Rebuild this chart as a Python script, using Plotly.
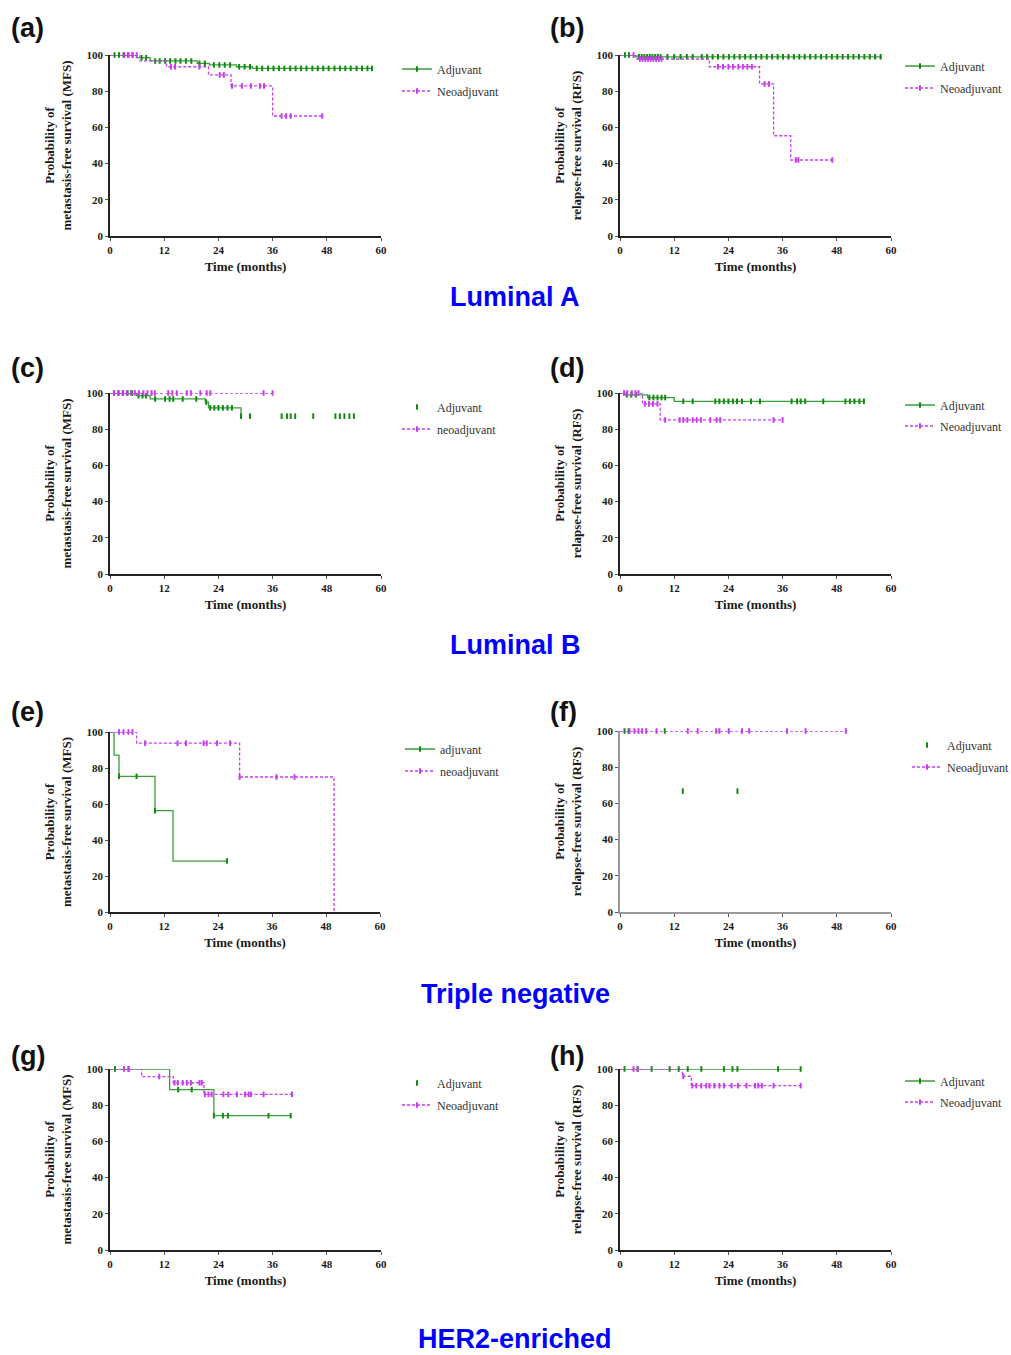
import plotly.graph_objects as go

W, H = 1011, 1355

# ---------------- DATA ----------------
# (a) Luminal A, MFS
a_adj_t = [0, 5.9, 8.9, 19.3, 22, 28, 31.5]
a_adj_s = [100, 98.5, 96.7, 95.4, 94.5, 93.5, 92.6]
a_adj_end = 58
a_adj_c = [1, 2, 3, 4, 5, 7, 8, 10, 11, 12.2, 13.3, 14.5, 15.6, 16.8, 18, 19.8, 21, 23, 24.2,
           25.4, 26.6, 28.6, 29.8, 31, 32.5, 33.7, 35, 36.2, 37.4, 38.6, 39.9, 41.1, 42.3, 43.5,
           44.8, 46, 47.2, 48.4, 49.7, 50.9, 52.1, 53.3, 54.6, 55.8, 57, 58]
a_neo_t = [0, 6.6, 12.5, 21.8, 26.8, 36]
a_neo_s = [100, 96.7, 93.5, 89, 82.9, 66.3]
a_neo_end = 47
a_neo_c = [3.2, 4.1, 5, 5.9, 13.5, 14.4, 19.8, 24.3, 25.2, 27, 29.2, 31.2, 33.2, 34.1, 38, 39, 40, 47]

# (b) Luminal A, RFS
b_adj_t = [0, 3.4]
b_adj_s = [100, 99]
b_adj_end = 58
b_adj_c = [1.1, 2, 4.2, 4.8, 5.4, 6, 6.6, 7.2, 7.8, 8.4, 9, 10.5, 12, 13.4, 14.8, 16.1, 18.1, 19.3,
           20.5, 21.7, 22.9, 24.1, 25.3, 26.5, 27.7, 28.9, 30.1, 31.3, 32.5, 33.7, 34.9, 36.1, 37.3,
           38.5, 39.7, 40.9, 42.1, 43.3, 44.5, 45.7, 46.9, 48.1, 49.3, 50.5, 51.7, 52.9, 54.1, 55.3,
           56.5, 57.7]
b_neo_t = [0, 3.8, 19.8, 30.9, 34, 37.8]
b_neo_s = [100, 97.8, 93.5, 84, 55.4, 42]
b_neo_end = 47
b_neo_c = [3, 4.4, 5, 5.6, 6.2, 6.8, 7.4, 8, 8.6, 9.2, 21.7, 22.8, 24, 25, 26.2, 27.2, 28.2, 29.2,
           32, 33, 38.9, 39.5, 47]

# (c) Luminal B, MFS
c_adj_t = [0, 5.9, 8.9, 21.1, 21.8, 29]
c_adj_s = [100, 98.5, 96.7, 95, 91.8, 87.2]
c_adj_end = 29
c_adj_c = [0.9, 1.9, 2.9, 3.9, 4.9, 6.3, 7.2, 8, 10, 12.2, 13.2, 14, 16.1, 19.1, 21.3, 22.2, 23.1,
           24, 25, 26, 27, 29, 31, 38, 39.2, 40, 41, 45, 49.9, 50.9, 51.9, 53, 54]
c_neo_t = [0]
c_neo_s = [100]
c_neo_end = 36
c_neo_c = [0.9, 1.8, 2.8, 3.7, 4.6, 5.5, 6.4, 7.4, 8.3, 9.2, 9.9, 12.9, 13.8, 14.8, 17, 17.9, 20,
           21.4, 22.2, 34, 36]

# (d) Luminal B, RFS
d_adj_t = [0, 0.8, 6.1, 12]
d_adj_s = [100, 99, 97.5, 95.4]
d_adj_end = 54
d_adj_c = [1.5, 2.5, 3.5, 6.5, 7.4, 8.3, 9.2, 10, 14, 16.1, 21.1, 22, 23, 24, 25, 25.9, 27, 29, 31,
           38, 39.2, 40, 41, 45, 49.9, 50.9, 51.9, 53, 54]
d_neo_t = [0, 5, 8.9]
d_neo_s = [100, 94, 85.1]
d_neo_end = 36
d_neo_c = [0.9, 1.6, 2.6, 3.4, 4.1, 5.5, 6.4, 7.3, 8.3, 10, 13.2, 14, 14.9, 16.1, 17, 17.9, 20,
           21.4, 22.2, 34, 36]

# (e) Triple negative, MFS
e_adj_t = [0, 0.9, 2, 10, 14]
e_adj_s = [100, 87.2, 75.4, 56.3, 28.3]
e_adj_end = 26
e_adj_c = [2, 5.9, 10, 26]
e_neo_t = [0, 5.9, 28.8, 49.8]
e_neo_s = [100, 93.8, 75, 0]
e_neo_end = 49.8
e_neo_c = [2, 3, 4.1, 5, 7.8, 15, 16.9, 20.8, 21.5, 23.8, 26.7, 28.8, 37, 41]

# (f) Triple negative, RFS
f_adj_t = [0, 12]
f_adj_s = [100, 66.8]
f_adj_end = 0
f_adj_c = [1, 1.9, 9.9, 13.9, 26]
f_neo_t = [0]
f_neo_s = [100]
f_neo_end = 50
f_neo_c = [2.1, 3.2, 4.1, 4.9, 5.8, 8.1, 15, 17.2, 21.3, 22, 24.1, 27, 28.6, 37, 41.1, 50]

# (g) HER2-enriched, MFS
g_adj_t = [0, 13.2, 23]
g_adj_s = [100, 88.6, 74.2]
g_adj_end = 40
g_adj_c = [1.1, 4.1, 15.1, 18.1, 23, 25, 26.1, 35.1, 40]
g_neo_t = [0, 7, 14, 20.8]
g_neo_s = [100, 95.8, 92.4, 86]
g_neo_end = 40.3
g_neo_c = [3.1, 4.1, 10.9, 14.3, 15, 16.1, 17, 17.9, 19.8, 20.3, 21, 21.8, 22.5, 25.1, 26.2, 28.1,
           29.9, 30.7, 31.2, 34, 40.3]

# (h) HER2-enriched, RFS
h_adj_t = [0]
h_adj_s = [100]
h_adj_end = 40
h_adj_c = [1, 3.9, 7, 11, 13, 15, 18, 23, 24.9, 26, 35, 40]
h_neo_t = [0, 13.8, 15.8]
h_neo_s = [100, 96, 90.8]
h_neo_end = 40
h_neo_c = [3, 3.9, 14, 16, 16.9, 18, 19.1, 19.8, 20.9, 22, 23, 24.7, 26.1, 28, 29.9, 30.6, 31.4, 34, 40]

x_ticks = [0, 12, 24, 36, 48, 60]
y_ticks = [0, 20, 40, 60, 80, 100]
mfs_title = "Probability of<br>metastasis-free survival (MFS)"
rfs_title = "Probability of<br>relapse-free survival (RFS)"
section_titles = ["Luminal A", "Luminal B", "Triple negative", "HER2-enriched"]

panels = [
    dict(key="a", adj=(a_adj_t, a_adj_s, a_adj_end, a_adj_c), neo=(a_neo_t, a_neo_s, a_neo_end, a_neo_c),
         names=("Adjuvant", "Neoadjuvant"), ytitle=mfs_title, adj_leg_line=True),
    dict(key="b", adj=(b_adj_t, b_adj_s, b_adj_end, b_adj_c), neo=(b_neo_t, b_neo_s, b_neo_end, b_neo_c),
         names=("Adjuvant", "Neoadjuvant"), ytitle=rfs_title, adj_leg_line=True),
    dict(key="c", adj=(c_adj_t, c_adj_s, c_adj_end, c_adj_c), neo=(c_neo_t, c_neo_s, c_neo_end, c_neo_c),
         names=("Adjuvant", "neoadjuvant"), ytitle=mfs_title, adj_leg_line=False),
    dict(key="d", adj=(d_adj_t, d_adj_s, d_adj_end, d_adj_c), neo=(d_neo_t, d_neo_s, d_neo_end, d_neo_c),
         names=("Adjuvant", "Neoadjuvant"), ytitle=rfs_title, adj_leg_line=True),
    dict(key="e", adj=(e_adj_t, e_adj_s, e_adj_end, e_adj_c), neo=(e_neo_t, e_neo_s, e_neo_end, e_neo_c),
         names=("adjuvant", "neoadjuvant"), ytitle=mfs_title, adj_leg_line=True),
    dict(key="f", adj=(f_adj_t, f_adj_s, f_adj_end, f_adj_c), neo=(f_neo_t, f_neo_s, f_neo_end, f_neo_c),
         names=("Adjuvant", "Neoadjuvant"), ytitle=rfs_title, adj_leg_line=False),
    dict(key="g", adj=(g_adj_t, g_adj_s, g_adj_end, g_adj_c), neo=(g_neo_t, g_neo_s, g_neo_end, g_neo_c),
         names=("Adjuvant", "Neoadjuvant"), ytitle=mfs_title, adj_leg_line=False),
    dict(key="h", adj=(h_adj_t, h_adj_s, h_adj_end, h_adj_c), neo=(h_neo_t, h_neo_s, h_neo_end, h_neo_c),
         names=("Adjuvant", "Neoadjuvant"), ytitle=rfs_title, adj_leg_line=True),
]

# ---------------- LAYOUT GEOMETRY (window pixels) ----------------
boxes = {
    "a": (110, 381, 55, 236), "b": (620, 891, 55, 236),
    "c": (110, 381, 393, 574), "d": (620, 891, 393, 574),
    "e": (110, 380, 732, 912), "f": (620, 891, 731, 912),
    "g": (110, 381, 1069, 1250), "h": (620, 891, 1069, 1250),
}
# legend entry: (text left x, adjuvant entry y, neoadjuvant entry y)
legend_pos = {"a": (437, 69, 91), "b": (940, 66, 88), "c": (437, 407, 429), "d": (940, 405, 426),
              "e": (440, 749, 771), "f": (947, 745, 767), "g": (437, 1083, 1105), "h": (940, 1081, 1102)}
letter_pos = {"a": (9, 28), "b": (548, 28), "c": (9, 368), "d": (548, 368),
              "e": (9, 712), "f": (548, 712), "g": (9, 1056), "h": (548, 1056)}
section_y = [297, 645, 994, 1339]

GREEN_LINE = "#3a9e3a"
GREEN_MK = "#138a13"
MAG = "#c83cf2"
SERIF = "Liberation Serif, Times New Roman, serif"
SANS = "Liberation Sans, Arial, sans-serif"


def px_x(p):
    return p / W


def px_y(p):
    return 1 - p / H


def step_value(ts, ss, t):
    v = ss[0]
    for ti, si in zip(ts, ss):
        if t >= ti:
            v = si
    return v


fig = go.Figure()
layout = {}
leg_count = 0

for i, p in enumerate(panels):
    n = i + 1
    xa = "x" if n == 1 else f"x{n}"
    ya = "y" if n == 1 else f"y{n}"
    x0, x1, y0, y1 = boxes[p["key"]]
    axis_col = "#9a9a9a" if p["key"] == "f" else "#222"
    tx, ly_adj, ly_neo = legend_pos[p["key"]]

    for which, color, mk, dash, name, ly in (
        ("adj", GREEN_LINE, GREEN_MK, "solid", p["names"][0], ly_adj),
        ("neo", MAG, MAG, "3px,2px", p["names"][1], ly_neo),
    ):
        ts, ss, end, cens = p[which]
        if end > 0:
            lx = list(ts) + [end]
            lyv = list(ss) + [ss[-1]]
            fig.add_trace(go.Scatter(x=lx, y=lyv, mode="lines",
                                     line=dict(color=color, width=1.3, dash=dash, shape="hv"),
                                     xaxis=xa, yaxis=ya, showlegend=False, cliponaxis=False, hoverinfo="skip"))
        cy = [step_value(ts, ss, t) for t in cens]
        fig.add_trace(go.Scatter(x=cens, y=cy, mode="markers",
                                 marker=dict(symbol="line-ns", size=4, line=dict(color=mk, width=2)),
                                 xaxis=xa, yaxis=ya, showlegend=False, cliponaxis=False, hoverinfo="skip"))
        leg_count += 1
        leg = "legend" if leg_count == 1 else f"legend{leg_count}"
        show_line = not (which == "adj" and not p["adj_leg_line"])
        fig.add_trace(go.Scatter(x=[None], y=[None], name=name,
                                 mode="lines+markers" if show_line else "markers",
                                 line=dict(color=color, width=1.3, dash=dash),
                                 marker=dict(symbol="line-ns", size=4, line=dict(color=mk, width=2)),
                                 xaxis=xa, yaxis=ya, legend=leg, showlegend=True))
        layout[leg] = dict(x=px_x(tx - 40), y=px_y(ly), xanchor="left", yanchor="middle",
                           bgcolor="rgba(0,0,0,0)", borderwidth=0, itemwidth=30,
                           font=dict(family=SERIF, size=12, color="#333"))

    tick_font = dict(family=SERIF, size=11, color="#1a1a1a", weight="bold")
    title_font = dict(family=SERIF, size=13, color="#1a1a1a", weight="bold")
    layout["xaxis" if n == 1 else f"xaxis{n}"] = dict(
        domain=[px_x(x0), px_x(x1)], anchor=ya, range=[0, 60], tickvals=x_ticks,
        showgrid=False, zeroline=False, showline=True, linecolor=axis_col, linewidth=1.5,
        ticks="outside", ticklen=3, tickcolor="#555", tickwidth=1, automargin=False,
        tickfont=tick_font, title=dict(text="Time (months)", standoff=7, font=title_font),
        fixedrange=True)
    layout["yaxis" if n == 1 else f"yaxis{n}"] = dict(
        domain=[px_y(y1), px_y(y0)], anchor=xa, range=[0, 100], tickvals=y_ticks,
        showgrid=False, zeroline=False, showline=True, linecolor=axis_col, linewidth=1.5,
        ticks="outside", ticklen=3, tickcolor="#555", tickwidth=1, automargin=False,
        tickfont=tick_font, title=dict(text=p["ytitle"], standoff=12, font=title_font),
        fixedrange=True)

annotations = []
for p in panels:
    lx, ly = letter_pos[p["key"]]
    annotations.append(dict(x=px_x(lx), y=px_y(ly), xref="paper", yref="paper", xanchor="left", yanchor="middle",
                            text=f"({p['key']})", showarrow=False,
                            font=dict(family=SANS, size=27, color="#111", weight="bold")))
for txt, sy in zip(section_titles, section_y):
    annotations.append(dict(x=px_x(515), y=px_y(sy), xref="paper", yref="paper", xanchor="center",
                            yanchor="middle", text=txt, showarrow=False, borderpad=0,
                            font=dict(family=SANS, size=27, color="#0000ff", weight="bold")))

fig.update_layout(width=W, height=H, margin=dict(l=0, r=0, t=0, b=0, autoexpand=False),
                  paper_bgcolor="white", plot_bgcolor="white",
                  annotations=annotations, **layout)

# remove the default page margin so the figure fills the window exactly
reset_page = ("document.documentElement.style.margin='0';document.body.style.margin='0';"
              "document.body.style.padding='0';document.body.style.overflow='hidden';"
              "document.documentElement.style.overflow='hidden';")
fig.write_html("out.html", post_script=reset_page, config={"displayModeBar": False})
